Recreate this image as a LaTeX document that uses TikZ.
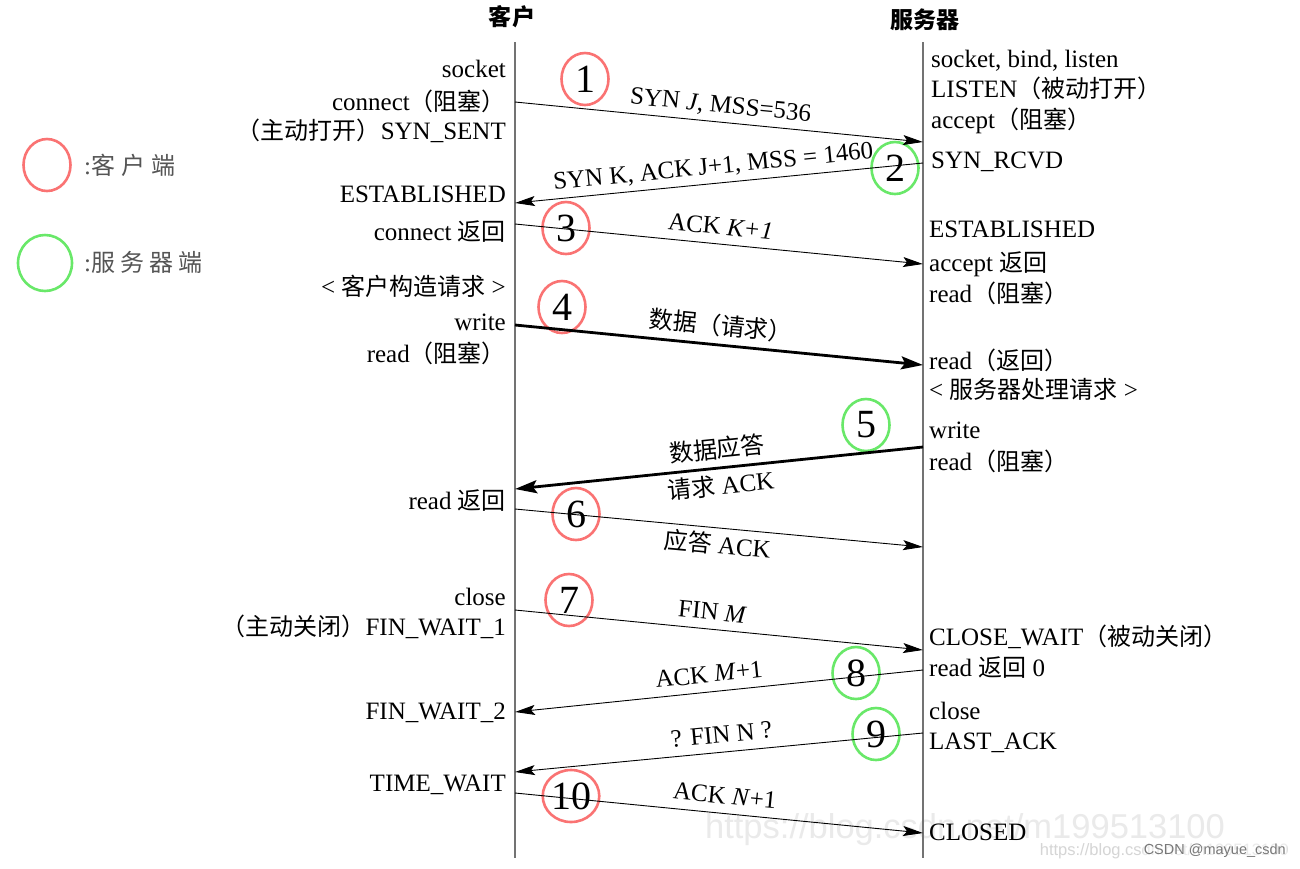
\documentclass[tikz,border=0pt]{standalone}
\usepackage{fontspec}
\setmainfont{Liberation Serif}
\newfontfamily\cjk{Noto Sans CJK SC}[Scale=0.96]
\newfontfamily\wmfont{Liberation Sans}
\usetikzlibrary{arrows.meta,shapes.geometric}
\newcommand{\C}[1]{{\cjk #1}}
\newcommand{\rpend}{{\cjk ）}\hspace{-9pt}}
\definecolor{cred}{RGB}{250,115,115}
\definecolor{cgreen}{RGB}{105,232,105}
\definecolor{lifegray}{RGB}{115,115,115}
\definecolor{leggray}{RGB}{85,85,85}
\definecolor{wmlight}{RGB}{234,234,234}
\definecolor{wmdark}{RGB}{120,120,120}
\tikzset{
  lbl/.style={inner sep=0pt, text height=20pt, text depth=4pt},
  cl/.style={lbl, anchor=east},
  sl/.style={lbl, anchor=west},
  life/.style={draw=lifegray, line width=1.3pt},
  msg/.style={draw=black, line width=0.9pt, -{Stealth[length=20pt,width=10pt,inset=4pt]}},
  bigmsg/.style={draw=black, line width=2.8pt, -{Stealth[length=22pt,width=13pt,inset=4pt]}},
  ab/.style={lbl, sloped, above, inner sep=5pt},
  be/.style={lbl, sloped, below, inner sep=5pt},
  numc/.style={ellipse, draw, line width=2.6pt, minimum width=47pt, minimum height=52pt,
    inner sep=0pt, font=\fontsize{40}{40}\selectfont},
  title/.style={font=\fontsize{24}{28}\selectfont\bfseries},
}
\begin{document}
\begin{tikzpicture}[x=1pt,y=-1pt,font=\fontsize{25}{28}\selectfont]
\useasboundingbox[fill=white] (0,0) rectangle (1300,868);

% watermarks
\node[text=wmlight, font=\wmfont\fontsize{34.5}{36}\selectfont] (wm1) at (965,830) {https://blog.csdn.net/m199513100};

% titles
\node[title] (tc) at (512,17) {\C{\bfseries 客户}};
\node[title] (ts) at (925,20) {\C{\bfseries 服务器}};

% lifelines
\coordinate (ctop) at (515,42);
\coordinate (cbot) at (515,858);
\coordinate (stop) at (923,42);
\coordinate (sbot) at (923,858);
\draw[life] (ctop) -- (cbot);
\draw[life] (stop) -- (sbot);

% legend
\node[numc, draw=cred] (legc) at (47,165) {};
\node[numc, draw=cgreen, minimum width=54pt, minimum height=56pt] (legs) at (45,263) {};
\node[lbl, anchor=west, text=leggray] (legct) at (84,166) {:\C{客\hspace{6pt}户\hspace{6pt}端}};
\node[lbl, anchor=west, text=leggray] (legst) at (84,263) {:\C{服\hspace{5pt}务\hspace{5pt}器\hspace{5pt}端}};

% numbered circles
\node[numc, draw=cred]   (n1)  at (585,79)  {1};
\node[numc, draw=cgreen] (n2)  at (895,168) {2};
\node[numc, draw=cred]   (n3)  at (566,228) {3};
\node[numc, draw=cred]   (n4)  at (562,307) {4};
\node[numc, draw=cgreen] (n5)  at (866,425) {5};
\node[numc, draw=cred]   (n6)  at (576,514) {6};
\node[numc, draw=cred]   (n7)  at (569,600) {7};
\node[numc, draw=cgreen] (n8)  at (856,673) {8};
\node[numc, draw=cgreen] (n9)  at (876,734) {9};
\node[numc, draw=cred]   (n10) at (571,796) {10};

% message end points
\coordinate (c1) at (515,102);  \coordinate (s1) at (923,142);
\coordinate (s2) at (923,163);  \coordinate (c2) at (515,203);
\coordinate (c3) at (515,224);  \coordinate (s3) at (923,264);
\coordinate (c4) at (515,325);  \coordinate (s4) at (923,365);
\coordinate (s5) at (923,447);  \coordinate (c5) at (515,489);
\coordinate (c6) at (515,509);  \coordinate (s6) at (923,547);
\coordinate (c7) at (515,610);  \coordinate (s7) at (923,650);
\coordinate (s8) at (923,670);  \coordinate (c8) at (515,712);
\coordinate (s9) at (923,733);  \coordinate (c9) at (515,772);
\coordinate (c10) at (515,793); \coordinate (s10) at (923,833);

% messages
\draw[msg] (c1) -- node[ab, pos=0.50] (m1) {SYN \textit{J}, MSS=536} (s1);
\draw[msg] (s2) -- node[ab, pos=0.51] (m2) {SYN K, ACK J+1, MSS = 1460} (c2);
\draw[msg] (c3) -- node[ab, pos=0.50] (m3) {ACK \textit{K+1}} (s3);
\draw[bigmsg] (c4) -- node[ab, pos=0.50] (m4) {\C{数据（请求）}} (s4);
\draw[bigmsg] (s5) -- node[ab, pos=0.50] (m5a) {\C{数据应答}}
                       node[be, pos=0.50] (m5b) {\C{请求} ACK} (c5);
\draw[msg] (c6) -- node[be, pos=0.50] (m6) {\C{应答} ACK} (s6);
\draw[msg] (c7) -- node[ab, pos=0.48] (m7) {FIN \textit{M}} (s7);
\draw[msg] (s8) -- node[ab, pos=0.52] (m8) {ACK \textit{M}+1} (c8);
\draw[msg] (s9) -- node[ab, pos=0.49] (m9) {? FIN N ?} (c9);
\draw[msg] (c10) -- node[ab, pos=0.51] (m10) {ACK \textit{N}+1} (s10);

% client labels
\node[cl] (lc1)  at (506,69)  {socket};
\node[cl] (lc2)  at (506,102) {connect\C{（阻塞}\rpend};
\node[cl] (lc3)  at (506,131) {\C{（主动打开）}SYN\_SENT};
\node[cl] (lc4)  at (506,194) {ESTABLISHED};
\node[cl] (lc5)  at (506,232) {connect \C{返回}};
\node[cl] (lc6)  at (506,287) {< \C{客户构造请求} >};
\node[cl] (lc7)  at (506,322) {write};
\node[cl] (lc8)  at (506,354) {read\C{（阻塞}\rpend};
\node[cl] (lc9)  at (506,501) {read \C{返回}};
\node[cl] (lc10) at (506,597) {close};
\node[cl] (lc11) at (506,627) {\C{（主动关闭）}FIN\_WAIT\_1};
\node[cl] (lc12) at (506,711) {FIN\_WAIT\_2};
\node[cl] (lc13) at (506,783) {TIME\_WAIT};

% server labels
\node[sl] (ls1)  at (931,59)  {socket, bind, listen};
\node[sl] (ls2)  at (931,89)  {LISTEN\C{（被动打开）}};
\node[sl] (ls3)  at (931,120) {accept\C{（阻塞）}};
\node[sl] (ls4)  at (931,160) {SYN\_RCVD};
\node[sl] (ls5)  at (929,229) {ESTABLISHED};
\node[sl] (ls6)  at (929,263) {accept \C{返回}};
\node[sl] (ls7)  at (929,294) {read\C{（阻塞）}};
\node[sl] (ls8)  at (929,361) {read\C{（返回）}};
\node[sl] (ls9)  at (929,390) {< \C{服务器处理请求} >};
\node[sl] (ls10) at (929,430) {write};
\node[sl] (ls11) at (929,462) {read\C{（阻塞）}};
\node[sl] (ls12) at (929,637) {CLOSE\_WAIT\C{（被动关闭）}};
\node[sl] (ls13) at (929,668) {read \C{返回} 0};
\node[sl] (ls14) at (929,711) {close};
\node[sl] (ls15) at (929,741) {LAST\_ACK};
\node[sl] (ls16) at (929,832) {CLOSED};

% small watermark
\node[anchor=east, text=wmlight!80!gray, font=\wmfont\fontsize{16.5}{18}\selectfont] (wm2) at (1292,851) {https://blog.csdn.net/m199513100};
\node[anchor=east, text=wmdark, fill=white, fill opacity=0.5, text opacity=1, inner sep=1pt, font=\wmfont\fontsize{14.5}{16}\selectfont] (wm3) at (1287,851) {CSDN @mayue\_csdn};
\end{tikzpicture}
\end{document}
